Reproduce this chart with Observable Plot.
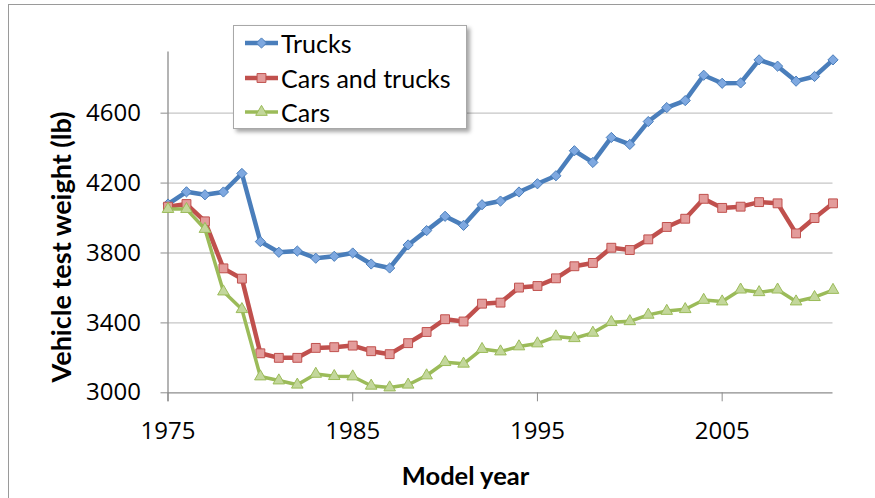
<!DOCTYPE html>
<html><head><meta charset="utf-8">
<script src="https://cdn.jsdelivr.net/npm/d3@7"></script>
<script src="https://cdn.jsdelivr.net/npm/@observablehq/plot@0.6"></script>
<style>
html,body{margin:0;padding:0;background:#fff;overflow:hidden;}
#wrap{position:relative;width:875px;height:498px;font-family:Lato,"Open Sans",sans-serif;}
#frame{position:absolute;left:8px;top:4px;width:900px;height:540px;border:1px solid #9a9a9a;box-sizing:border-box;}
#chart{position:absolute;left:0;top:0;}
#legend{position:absolute;left:233px;top:25px;width:234px;height:104px;background:#fff;border:1px solid #a8a8a8;box-shadow:3px 3px 4px rgba(0,0,0,0.35);box-sizing:border-box;}
.lrow{position:absolute;left:0;height:30px;width:232px;}
.lrow svg{position:absolute;left:0;top:0;}
.lrow span{position:absolute;left:47px;top:0;line-height:30px;font-size:25px;color:#000;white-space:nowrap;}
</style></head>
<body><div id="wrap"><div id="frame"></div><div id="chart"></div><div id="legend"></div></div>
<script>
const years = [1975,1976,1977,1978,1979,1980,1981,1982,1983,1984,1985,1986,1987,1988,1989,1990,1991,1992,1993,1994,1995,1996,1997,1998,1999,2000,2001,2002,2003,2004,2005,2006,2007,2008,2009,2010,2011];
const trucks = [4080,4150,4133,4149,4255,3865,3804,3811,3770,3781,3800,3737,3714,3846,3928,4010,3958,4076,4097,4149,4196,4242,4385,4318,4461,4421,4552,4632,4672,4817,4771,4773,4905,4869,4783,4810,4905];
const carsAndTrucks = [4065,4080,3981,3712,3653,3226,3200,3200,3257,3261,3270,3238,3221,3284,3348,3421,3408,3510,3516,3602,3611,3655,3724,3743,3830,3817,3878,3949,3996,4110,4058,4065,4091,4084,3912,4000,4084];
const cars = [4051,4051,3937,3579,3478,3093,3070,3046,3108,3095,3093,3040,3030,3046,3099,3175,3166,3250,3236,3265,3282,3322,3312,3343,3404,3409,3446,3468,3478,3531,3522,3590,3575,3590,3522,3547,3588];
const seriesNames = ["Trucks","Cars and trucks","Cars"];
const xTicks = [1975,1985,1995,2005];
const yTicks = [3000,3400,3800,4200,4600];

const styles = [
  {line:"#4a7ebb", fill:"#7ea8e0", stroke:"#4a7ebb", symbol:"diamond2", r:4.6, sw:4.5},
  {line:"#c0504d", fill:"#e39c9b", stroke:"#c0504d", symbol:"square", r:5.0, sw:4.5},
  {line:"#9bbb59", fill:"#c3d79b", stroke:"#9bbb59", symbol:"triangle", r:4.3, sw:3.5}
];
const valuesBySeries = [trucks, carsAndTrucks, cars];
const data = seriesNames.map((name,k)=>years.map((yr,i)=>({series:name, year:yr, value:valuesBySeries[k][i]})));

const seriesMarks = data.flatMap((rows,k)=>{
  const s = styles[k];
  return [
    Plot.line(rows,{x:"year",y:"value",stroke:s.line,strokeWidth:s.sw,strokeLinejoin:"round",strokeLinecap:"round"}),
    Plot.dot(rows,{x:"year",y:"value",symbol:()=>s.symbol,r:s.r,fill:s.fill,stroke:s.stroke,strokeWidth:1})
  ];
});

const tickFont = "'Open Sans', Lato, sans-serif";
const chart = Plot.plot({
  width:875, height:498,
  marginLeft:167.5, marginRight:42.5, marginTop:51.5, marginBottom:105.7,
  style:{fontFamily:"Lato, 'Open Sans', sans-serif", background:"transparent", overflow:"visible"},
  x:{domain:[1975,2011]},
  y:{domain:[3000,4950]},
  marks:[
    Plot.gridY(yTicks.slice(1),{stroke:"#c6c6c6",strokeOpacity:1,strokeWidth:1.3}),
    Plot.ruleY([3000],{stroke:"#8c8c8c",strokeWidth:1.3}),
    Plot.ruleX([1975],{stroke:"#8c8c8c",strokeWidth:1.3,insetBottom:-9}),
    Plot.axisY({ticks:yTicks,tickSize:7,tickPadding:20,fontSize:24,fontFamily:tickFont,label:null,tickFormat:d=>String(d),stroke:"#8c8c8c",fill:"#000"}),
    Plot.axisX({ticks:xTicks,tickSize:9,tickPadding:20,fontSize:24,fontFamily:tickFont,label:null,tickFormat:d=>String(d),stroke:"#8c8c8c",fill:"#000"}),
    ...seriesMarks,
    Plot.text(["Vehicle test weight (lb)"],{frameAnchor:"left",textAnchor:"middle",rotate:-90,dx:-106,dy:24.6,fontWeight:"bold",fontSize:27,fill:"#000"}),
    Plot.text(["Model year"],{frameAnchor:"bottom",textAnchor:"middle",dx:-35,dy:92,fontWeight:"bold",fontSize:25.5,fill:"#000"})
  ]
});
document.getElementById("chart").appendChild(chart);

// legend
const legend = document.getElementById("legend");
const rowCenters = [17.5, 52.5, 86.5];
seriesNames.forEach((name,k)=>{
  const s = styles[k];
  const row = document.createElement("div");
  row.className = "lrow";
  row.style.top = (rowCenters[k]-15-1)+"px";
  const path = d3.symbol(s.symbol==="diamond2"?d3.symbolDiamond2:s.symbol==="square"?d3.symbolSquare:d3.symbolTriangle, Math.PI*s.r*s.r)();
  row.innerHTML = `<svg width="48" height="30"><line x1="11" x2="44" y1="15" y2="15" stroke="${s.line}" stroke-width="${s.sw}"/><path d="${path}" transform="translate(27.5,15)" fill="${s.fill}" stroke="${s.stroke}" stroke-width="1"/></svg><span>${name}</span>`;
  legend.appendChild(row);
});
</script>
</body></html>
